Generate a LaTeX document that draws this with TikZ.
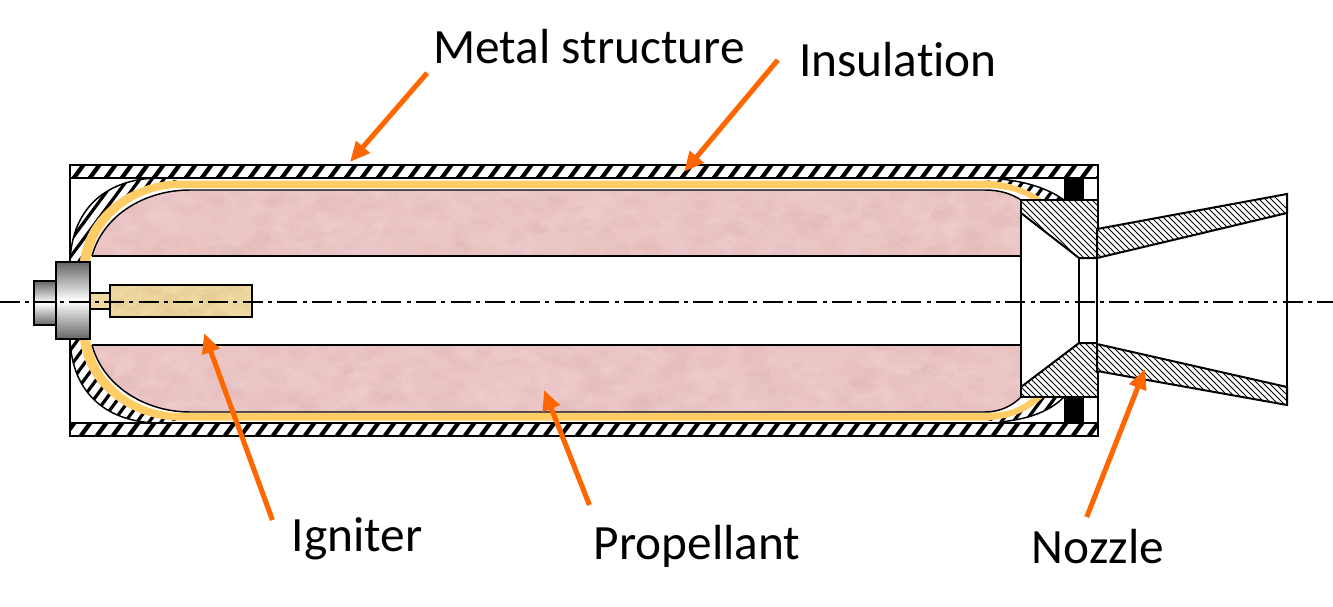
\documentclass[tikz,border=0pt]{standalone}
\usepackage{fontspec}
\setmainfont{Carlito}
\usetikzlibrary{arrows.meta}

\definecolor{pointerorange}{HTML}{FF6600}
\definecolor{linerfill}{HTML}{FFCC66}
\definecolor{grainpink}{HTML}{EBC4C4}
\definecolor{grainblob}{HTML}{C9A0A0}
\definecolor{grainlight}{HTML}{F6D6D6}
\definecolor{ignitertan}{HTML}{EFD9A2}
\definecolor{igniterblob}{HTML}{D9BC80}

\newcommand{\mottle}[5]{%
  \pgfmathsetseed{#5}
  \foreach \k in {1,...,350} {
    \pgfmathsetmacro{\bx}{#1+rnd*(#3-#1)}
    \pgfmathsetmacro{\by}{#2+rnd*(#4-#2)}
    \pgfmathsetmacro{\br}{4+rnd*10}
    \fill[grainblob,opacity=0.06] (\bx,\by) ellipse ({\br} and {\br*0.6});
    \pgfmathsetmacro{\bx}{#1+rnd*(#3-#1)}
    \pgfmathsetmacro{\by}{#2+rnd*(#4-#2)}
    \fill[grainlight,opacity=0.14] (\bx,\by) ellipse ({\br} and {\br*0.7});
  }
}

\tikzset{
  partline/.style={draw=black,line width=1.5pt},
  thinline/.style={draw=black,line width=1.1pt},
  casehatch/.style={path picture={
    \foreach \i in {-300,-284,...,1300}
      \draw[black,line width=3.2pt] (\i+#1,445) -- ++(300,-405);
  }},
  casehatch/.default=0,
  domehatch/.style={path picture={
    \foreach \i in {-300,-288,...,1300}
      \draw[black,line width=2.4pt] (\i+#1,445) -- ++(300,-405);
  }},
  domehatch/.default=0,
  finehatch/.style={path picture={
    \foreach \i in {700,706,...,1500}
      \draw[black,line width=0.65pt] (\i,420) -- ++(-240,-240);
  }},
  grainfill/.style={fill=grainpink},
  liner/.style={fill=linerfill},
  pointer/.style={draw=pointerorange,line width=3.8pt,-{Triangle[length=15pt,width=13pt]}},
  callout/.style={font=\fontsize{37}{44}\selectfont,inner sep=0pt,text=black},
  metalgrad/.style={draw=black,line width=1.5pt,top color=black!60,bottom color=black!60,middle color=white},
}

\begin{document}
\begin{tikzpicture}[x=0.75pt,y=-0.75pt]
  \useasboundingbox (0,0) rectangle (1333,606);

  % dome insulation, left and right ends
  \path[domehatch=3] (70,262) .. controls (72,205) and (110,178) .. (160,178) -- (180,181)
    .. controls (130,181) and (85,215) .. (80,262) -- cycle;
  \path[domehatch] (70,339) .. controls (72,396) and (110,423) .. (160,423) -- (180,420)
    .. controls (130,420) and (85,386) .. (80,339) -- cycle;
  \path[domehatch] (1000,179) .. controls (1030,182) and (1050,190) .. (1064,200) -- (1043,200)
    .. controls (1030,190) and (1010,182) .. (985,181) -- cycle;
  \path[domehatch] (1000,422) .. controls (1030,419) and (1050,411) .. (1064,397) -- (1043,397)
    .. controls (1030,411) and (1010,419) .. (985,420) -- cycle;
  \draw[thinline] (70,262) .. controls (72,205) and (110,178) .. (160,178);
  \draw[thinline] (70,339) .. controls (72,396) and (110,423) .. (160,423);
  \draw[thinline] (1000,179) .. controls (1030,182) and (1050,190) .. (1064,200);
  \draw[thinline] (1000,422) .. controls (1030,419) and (1050,411) .. (1064,397);

  % liner
  \fill[liner] (80,262) .. controls (85,215) and (130,180.5) .. (180,180.5) -- (985,180.5)
    .. controls (1010,181.5) and (1030,190) .. (1043,200) -- (1033,200)
    .. controls (1020,192) and (1005,188) .. (985,188) -- (180,188)
    .. controls (135,188) and (95,220) .. (90,262) -- cycle;
  \fill[liner] (80,339) .. controls (85,386) and (130,420.5) .. (180,420.5) -- (985,420.5)
    .. controls (1010,419.5) and (1030,411) .. (1043,397) -- (1033,397)
    .. controls (1020,409) and (1005,413) .. (985,413) -- (180,413)
    .. controls (135,413) and (95,381) .. (90,339) -- cycle;

  % propellant
  \begin{scope}
    \clip (92,256) .. controls (103,215) and (145,190) .. (190,190) -- (985,190)
      .. controls (1000,190) and (1012,194) .. (1021,200) -- (1021,256) -- cycle;
    \fill[grainfill] (90,188) rectangle (1022,257);
    \mottle{90}{188}{1022}{257}{11}
  \end{scope}
  \begin{scope}
    \clip (92,345) .. controls (103,386) and (145,412) .. (190,412) -- (985,412)
      .. controls (1000,412) and (1012,406) .. (1021,397) -- (1021,345) -- cycle;
    \fill[grainfill] (90,344) rectangle (1022,414);
    \mottle{90}{344}{1022}{414}{23}
  \end{scope}
  \draw[thinline] (92,256) .. controls (103,215) and (145,190) .. (190,190) -- (985,190)
    .. controls (1000,190) and (1012,194) .. (1021,200);
  \draw[thinline] (92,345) .. controls (103,386) and (145,412) .. (190,412) -- (985,412)
    .. controls (1000,412) and (1012,406) .. (1021,397);
  \draw[thinline] (92,256) -- (1021,256);
  \draw[thinline] (92,345) -- (1021,345);

  % case walls
  \filldraw[partline,fill=white,casehatch] (70,165) rectangle (1098,178);
  \filldraw[partline,fill=white,casehatch=6] (70,423) rectangle (1098,436);
  \draw[partline] (70,178) -- (70,262);
  \draw[partline] (70,339) -- (70,423);
  \draw[partline] (1098,178) -- (1098,200);
  \draw[partline] (1098,397) -- (1098,423);
  \fill[black] (1064,179) rectangle (1084,200);
  \fill[black] (1064,397) rectangle (1084,422);

  % nozzle closure and throat
  \draw[partline] (1021,200) -- (1021,397);
  \draw[partline] (1079,258) rectangle (1097,343);
  \path[finehatch] (1021,201) -- (1098,201) -- (1098,258) -- (1079,258) -- (1021,213) -- cycle;
  \path[finehatch] (1021,396) -- (1098,396) -- (1098,343) -- (1079,343) -- (1021,387) -- cycle;
  \draw[partline] (1021,213) -- (1079,258) -- (1097,258);
  \draw[partline] (1021,387) -- (1079,343) -- (1097,343);
  \draw[partline] (1021,200) -- (1098,200) -- (1098,229);
  \draw[partline] (1021,397) -- (1098,397) -- (1098,371);

  % exit cone
  \filldraw[partline,fill=white,finehatch] (1097,229) -- (1287,194) -- (1287,213) -- (1097,258) -- cycle;
  \filldraw[partline,fill=white,finehatch] (1097,344) -- (1287,387) -- (1287,405) -- (1097,371) -- cycle;
  \draw[partline] (1287,213) -- (1287,387);
  \draw[partline] (1097,258) -- (1097,344);

  % igniter
  \filldraw[partline,fill=ignitertan] (90,293) rectangle (110,309);
  \begin{scope}
    \clip (110,285) rectangle (252,317);
    \fill[ignitertan] (110,285) rectangle (252,317);
    \pgfmathsetseed{5}
    \foreach \k in {1,...,50} {
      \pgfmathsetmacro{\bx}{110+rnd*142}
      \pgfmathsetmacro{\by}{285+rnd*32}
      \fill[igniterblob,opacity=0.12] (\bx,\by) ellipse (8 and 5);
    }
  \end{scope}
  \draw[partline] (110,285) rectangle (252,317);
  \shade[metalgrad] (34,281) rectangle (56,325);
  \shade[metalgrad] (56,262) rectangle (90,339);
  \draw[black,line width=2.2pt] (90,262) -- (90,339);

  % centre line
  \draw[black,line width=0.9pt,dash pattern=on 15pt off 4pt on 3pt off 4pt] (0,302) -- (1333,302);

  % labels and pointers
  \node[callout] (metallabel) at (589,47) {Metal structure};
  \node[callout] (insulationlabel) at (898,60) {Insulat\kern0pt ion};
  \node[callout] (igniterlabel) at (357,539) {Igniter};
  \node[callout] (propellantlabel) at (697,546) {Propellant};
  \node[callout] (nozzlelabel) at (1098,547) {Nozzle};

  \coordinate (metaltip) at (350,162);
  \coordinate (insulationtip) at (684,172);
  \coordinate (ignitertip) at (204,333);
  \coordinate (propellanttip) at (544,390);
  \coordinate (nozzletip) at (1145,369);

  \draw[pointer] ([shift={(-6,26)}]metallabel.west) -- (metaltip);
  \draw[pointer] ([shift={(-21,0)}]insulationlabel.west) -- (insulationtip);
  \draw[pointer] ([shift={(-19,-19)}]igniterlabel.west) -- (ignitertip);
  \draw[pointer] ([shift={(-4,-41)}]propellantlabel.west) -- (propellanttip);
  \draw[pointer] ([shift={(55,-30)}]nozzlelabel.west) -- (nozzletip);
\end{tikzpicture}
\end{document}
